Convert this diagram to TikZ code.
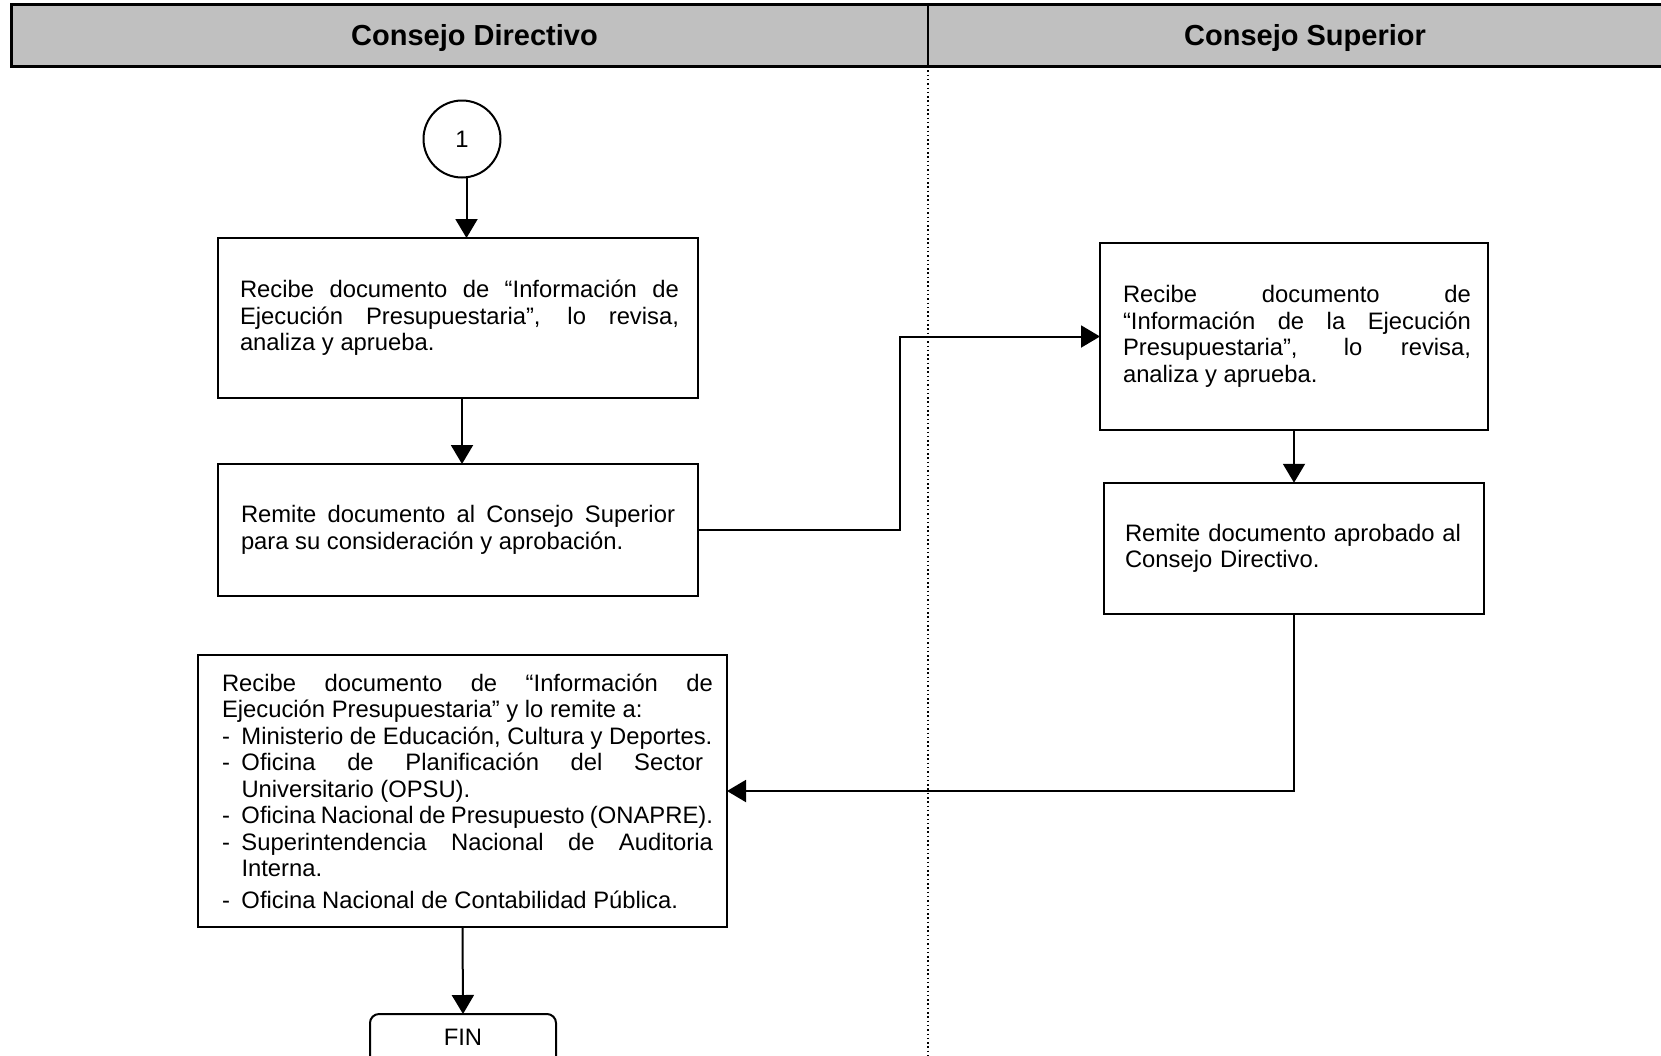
\documentclass[tikz,border=0pt]{standalone}
\usepackage{fontspec}
\setmainfont{Liberation Sans}
\usetikzlibrary{arrows.meta}
\definecolor{lanegray}{RGB}{192,192,192}
\begin{document}
\begin{tikzpicture}[x=1pt,y=-1pt,
  every node/.style={inner sep=0pt, outer sep=0pt},
  body/.style={font=\fontsize{23.8}{26.5}\selectfont},
  taskbox/.style={draw, line width=2pt, body, align=justify},
  arr/.style={line width=2pt, -{Triangle[length=19pt,width=22pt]}},
  lanetitle/.style={font=\fontsize{29}{34}\selectfont\bfseries},
]
\useasboundingbox (0,0) rectangle (1661,1055);
\clip (0,0) rectangle (1661,1055);

% swimlane header
\fill[lanegray] (11.7,4.5) rectangle (1680,66);
\draw[line width=3pt] (1680,4.5) -- (11.7,4.5) -- (11.7,66) -- (1680,66);
\draw[line width=1.5pt] (928,4.5) -- (928,66);
\node[lanetitle] (lane1) at (474.5,38.5) {Consejo Directivo};
\node[lanetitle] (lane2) at (1305,38.5) {Consejo Superior};

% lane separator
\draw[line width=1.5pt, dash pattern=on 1.5pt off 2.8pt] (928,66) -- (928,1060);

% connector and process boxes
\node[draw, circle, line width=2pt, minimum size=77pt, body] (c1) at (462,139) {1};

\node[taskbox, minimum width=480pt, minimum height=160pt, text width=442pt] (b1) at (458,318)
  {\parindent=0pt\leftskip=3pt
   Recibe documento de “Información de\linebreak Ejecución Presupuestaria”, lo revisa,\linebreak analiza y aprueba.\par};

\node[taskbox, minimum width=480pt, minimum height=132pt, text width=434pt] (b2) at (458,530)
  {Remite documento al Consejo Superior\linebreak para su consideración y aprobación.};

\node[taskbox, minimum width=529pt, minimum height=272pt, text width=501pt] (b3) at (462.5,791)
  {\parindent=0pt\leftskip=10pt
   Recibe documento de “Información de\linebreak Ejecución Presupuestaria” y lo remite a:\par
   \hangindent=19.5pt\hangafter=1\makebox[19.5pt][l]{-}Ministerio de Educación, Cultura y Deportes.\par
   \hangindent=19.5pt\hangafter=1\makebox[19.5pt][l]{-}Oficina de Planificación del Sector\hspace*{10pt}\linebreak Universitario (OPSU).\par
   \hangindent=19.5pt\hangafter=1\makebox[19.5pt][l]{-}Oficina Nacional de Presupuesto (ONAPRE).\par
   \hangindent=19.5pt\hangafter=1\makebox[19.5pt][l]{-}Superintendencia Nacional de Auditoria\linebreak Interna.\par
   \vspace{5pt}
   \hangindent=19.5pt\hangafter=1\makebox[19.5pt][l]{-}Oficina Nacional de Contabilidad Pública.\par};

\node[taskbox, minimum width=388pt, minimum height=187pt, text width=354pt] (b4) at (1294,336.5)
  {\parindent=0pt\leftskip=6pt
   Recibe documento de\linebreak “Información de la Ejecución\linebreak Presupuestaria”, lo revisa,\linebreak analiza y aprueba.\par};

\node[draw, line width=2pt, body, align=left, minimum width=380pt, minimum height=131.5pt, text width=338pt] (b5) at (1294,548.5)
  {Remite documento aprobado al\\Consejo Directivo.};

\node[draw, line width=2pt, body, rounded corners=9pt, minimum width=186pt, minimum height=52pt] (fin) at (463,1040)
  {\raisebox{6pt}{FIN}};

% flow
\draw[arr] ([xshift=4.5pt]c1.south) -- ([xshift=4.5pt]c1.south |- b1.north);
\draw[arr] ([xshift=4pt]b1.south) -- ([xshift=4pt]b1.south |- b2.north);
\draw[arr] (b2.east) -- ++(202,0) |- (b4.west);
\draw[arr] (b4.south) -- (b5.north);
\draw[arr] (b5.south) |- (b3.east);
\draw[arr] (b3.south) -- (fin.north);
\end{tikzpicture}
\end{document}
